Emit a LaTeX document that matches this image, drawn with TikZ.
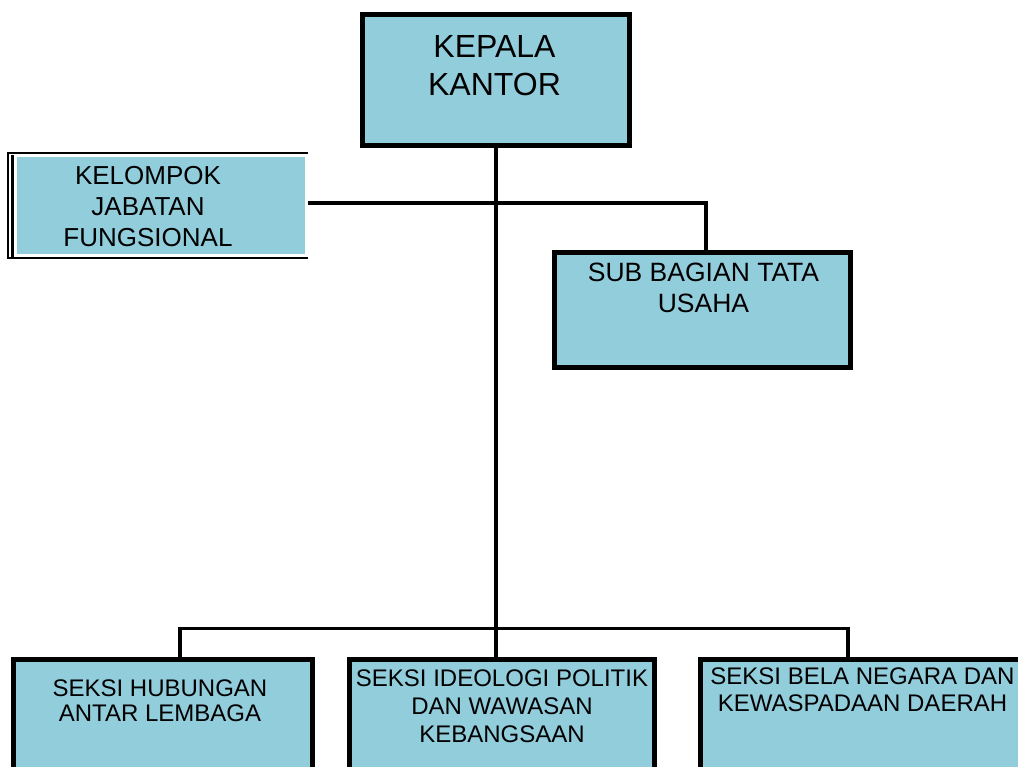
\documentclass[tikz,border=0pt]{standalone}
\usepackage{fontspec}
\setmainfont{Liberation Sans}
\definecolor{unitblue}{RGB}{146,205,220}

\begin{document}
\begin{tikzpicture}[x=1pt, y=-1pt,
        unit/.style={rectangle, draw=black, line width=5.5pt,
                     fill=unitblue, inner sep=0pt},
        lbl/.style={inner sep=0pt, align=center, anchor=north},
        conn/.style={line width=3.5pt}]
    \useasboundingbox (0,0) rectangle (1018,767);
    \clip (0,0) rectangle (1018,767);

    \node[unit, minimum width=267pt, minimum height=131pt] (KK) at (496,80) {};
    \node[unit, minimum width=296pt, minimum height=115pt] (TU) at (702.5,310) {};
    \node[unit, draw=none, minimum width=288pt, minimum height=96.5pt] (JF) at (161,205.75) {};
    \foreach \n/\x/\w in {S1/163/299, S2/502/305, S3/870.5/340} {
            \node[unit, minimum width=\w pt, minimum height=140.5pt] (\n) at (\x,729.75) {};
        }

    \draw[line width=2pt] ([yshift=1.25pt]JF.north east) -| ([xshift=-6.5pt]JF.west)
        |- ([yshift=-1.25pt]JF.south east);
    \draw[line width=3.5pt] ([xshift=-2pt]JF.north west) -- ([xshift=-2pt]JF.south west);

    \draw[conn] (KK.south) -- (KK.south |- S2.north);
    \draw[conn] ([yshift=2.5pt]JF.east) -| ([xshift=3.5pt]TU.north);
    \draw[conn] ([xshift=17pt]S1.north) -- ++(0,-28.5) -| ([xshift=-22.5pt]S3.north);

    \node[lbl, font=\fontsize{32}{38}\selectfont] at ([xshift=-1.5pt, yshift=-23.5pt]KK.north) {KEPALA\\KANTOR};
    \node[lbl, font=\fontsize{26.5}{31}\selectfont] at ([xshift=1pt, yshift=-13pt]TU.north) {SUB BAGIAN TATA\\USAHA};
    \node[lbl, font=\fontsize{26}{31}\selectfont] at ([xshift=-13pt, yshift=-11.5pt]JF.north) {KELOMPOK\\JABATAN\\FUNGSIONAL};
    \node[lbl, font=\fontsize{24}{25.5}\selectfont] at ([xshift=-3pt, yshift=-22.5pt]S1.north) {SEKSI HUBUNGAN\\ANTAR LEMBAGA};
    \node[lbl, font=\fontsize{24}{28}\selectfont] at ([yshift=-12.5pt]S2.north) {SEKSI IDEOLOGI POLITIK\\DAN WAWASAN\\KEBANGSAAN};
    \node[lbl, font=\fontsize{24}{27}\selectfont] at ([xshift=-8pt, yshift=-10.5pt]S3.north) {SEKSI BELA NEGARA DAN\\KEWASPADAAN DAERAH};
\end{tikzpicture}
\end{document}
